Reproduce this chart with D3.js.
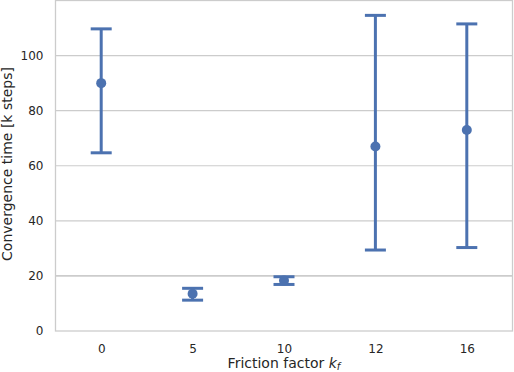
<!DOCTYPE html>
<html><head><meta charset="utf-8">
<script src="https://cdn.jsdelivr.net/npm/d3@7"></script>
<style>body{margin:0;background:#fff}svg{display:block;font-family:"DejaVu Sans",sans-serif}</style>
</head><body><svg id="c" width="514" height="372"></svg>
<script>
const categories = ["0","5","10","12","16"];
const means = [90.0, 13.5, 18.3, 67.0, 73.0];
const lower = [64.7, 11.2, 16.9, 29.4, 30.3];
const upper = [109.7, 15.5, 19.7, 114.6, 111.5];
const yTicks = [0,20,40,60,80,100];

const svg = d3.select("#c");
const L=55.5, R=512.5, T=0.5, B=331;
const x = d3.scalePoint().domain(categories).range([L,R]).padding(0.5);
const y = d3.scaleLinear().domain([0,120]).range([B,T]);
const col = "#4c72b0", grid="#cccccc", txt="#262626";

// grid
svg.append("g").selectAll("line").data(yTicks.filter(d=>d>0)).join("line")
  .attr("x1",L).attr("x2",R).attr("y1",d=>y(d)).attr("y2",d=>y(d))
  .attr("stroke",grid).attr("stroke-width",d=>d===20?1.6:1.1);
// frame
svg.append("rect").attr("x",L).attr("y",T).attr("width",R-L).attr("height",B-T)
  .attr("fill","none").attr("stroke",grid).attr("stroke-width",1.3);

// y axis
const ya = svg.append("g").attr("transform",`translate(${L},0)`)
  .call(d3.axisLeft(y).tickValues(yTicks).tickSize(0).tickPadding(12));
ya.select(".domain").remove();
ya.selectAll("text").attr("font-size",12).attr("fill",txt).attr("font-family","DejaVu Sans");
// x axis
const xa = svg.append("g").attr("transform",`translate(0,${B})`)
  .call(d3.axisBottom(x).tickSize(0).tickPadding(13));
xa.select(".domain").remove();
xa.selectAll("text").attr("font-size",12).attr("fill",txt).attr("font-family","DejaVu Sans");

// labels
const xl = svg.append("text").attr("x",(L+R)/2).attr("y",368).attr("text-anchor","middle")
  .attr("font-size",14).attr("fill",txt);
xl.append("tspan").text("Friction factor ");
xl.append("tspan").attr("font-style","italic").text("k");
xl.append("tspan").attr("font-style","italic").attr("font-size",10).attr("dy",2).text("f");
svg.append("text").attr("transform",`translate(12,164) rotate(-90)`)
  .attr("text-anchor","middle").attr("font-size",14).attr("fill",txt).text("Convergence time [k steps]");

// error bars
const g = svg.append("g");
const data = categories.map((c,i)=>({c,m:means[i],lo:lower[i],hi:upper[i]}));
g.selectAll("line.v").data(data).join("line").attr("class","v")
  .attr("x1",d=>x(d.c)).attr("x2",d=>x(d.c)).attr("y1",d=>y(d.lo)).attr("y2",d=>y(d.hi))
  .attr("stroke",col).attr("stroke-width",3);
["lo","hi"].forEach(k=>{
  g.selectAll("line."+k).data(data).join("line").attr("class",k)
    .attr("x1",d=>x(d.c)-10.5).attr("x2",d=>x(d.c)+10.5)
    .attr("y1",d=>y(d[k])).attr("y2",d=>y(d[k]))
    .attr("stroke",col).attr("stroke-width",3);
});
g.selectAll("circle").data(data).join("circle")
  .attr("cx",d=>x(d.c)).attr("cy",d=>y(d.m)).attr("r",5).attr("fill",col);
</script></body></html>
